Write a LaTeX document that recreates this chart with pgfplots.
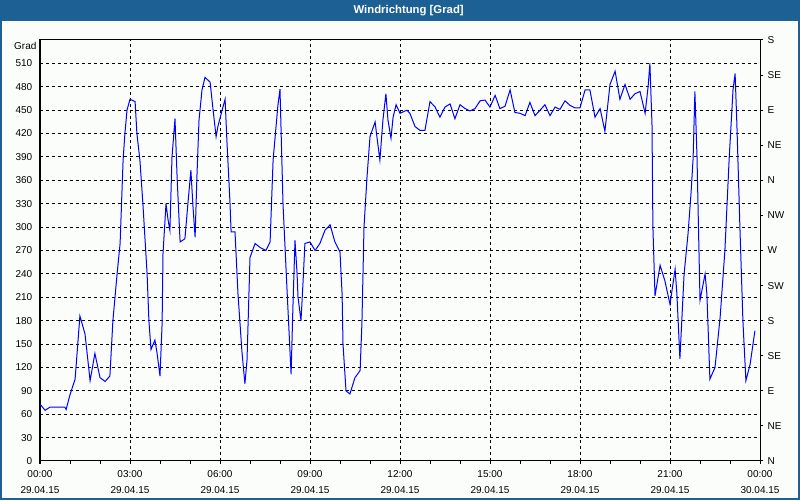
\documentclass[border=0pt]{standalone}
\usepackage{pgfplots}
\pgfplotsset{compat=1.18}
\usepackage{fontspec}
\setmainfont{Liberation Sans}
\definecolor{titlebar}{HTML}{1D6194}
\definecolor{bg}{HTML}{FBFDFB}
\definecolor{wind}{HTML}{0000FF}
\begin{document}
\begin{tikzpicture}[x=1pt,y=1pt]
\useasboundingbox (-30,-29.25) rectangle (570,345.75);
\fill[bg] (-30,-29.25) rectangle (570,345.75);
\fill[titlebar] (-30,330) rectangle (570,345.75);
\draw[titlebar, line width=1.5pt] (-29.25,-28.5) rectangle (569.25,345);
\node[white, font=\fontsize{8.5}{10}\selectfont\bfseries] at (276.5,338) {Windrichtung [Grad]};

% left axis: data, grid, time labels
\begin{axis}[
    scale only axis,
    width=540pt, height=315.75pt,
    xmin=0, xmax=24, ymin=0, ymax=540,
    axis background/.style={fill=bg},
    axis line style={black, line width=0.75pt},
    xtick={0,3,...,24},
    minor x tick num=2,
    xticklabels={{00:00\\29.04.15},{03:00\\29.04.15},{06:00\\29.04.15},{09:00\\29.04.15},{12:00\\29.04.15},{15:00\\29.04.15},{18:00\\29.04.15},{21:00\\29.04.15},{00:00\\30.04.15}},
    ytick={0,30,...,510},
    xtick pos=bottom, ytick pos=left,
    tick align=outside,
    major tick length=2.25pt, minor tick length=2.25pt,
    major y tick style={draw=none},
    tick style={black, line width=0.75pt},
    grid=major,
    major grid style={black, line width=0.75pt, dash pattern=on 2.25pt off 2.25pt},
    ticklabel style={font=\fontsize{7.5}{12}\selectfont},
    xticklabel style={align=center, yshift=-1.5pt},
    /pgf/number format/assume math mode=true,
    clip=false,
]
\addplot[wind, line width=0.75pt] coordinates {
(0,73) (0.17,65) (0.33,69) (0.83,69) (0.87,66) (1.0,85) (1.17,105) (1.33,186)
(1.5,163) (1.67,103) (1.83,138) (2.0,107) (2.17,102) (2.33,109) (2.43,180)
(2.57,240) (2.67,279) (2.77,386) (2.83,420) (2.9,450) (3.0,464) (3.17,461)
(3.23,420) (3.33,386) (3.43,330) (3.57,240) (3.63,180) (3.7,143) (3.83,155)
(3.9,139) (4.0,109) (4.07,176) (4.1,266) (4.2,330) (4.27,309) (4.33,296)
(4.4,390) (4.5,439) (4.57,364) (4.67,281) (4.83,285) (4.93,330) (5.03,373)
(5.1,326) (5.17,287) (5.23,364) (5.3,437) (5.4,476) (5.5,492) (5.67,486)
(5.77,450) (5.87,416) (5.93,429) (6.07,450) (6.17,464) (6.23,411) (6.33,334)
(6.37,294) (6.5,294) (6.6,214) (6.73,141) (6.83,99) (6.9,129) (7.0,261)
(7.17,279) (7.33,274) (7.53,270) (7.67,281) (7.77,386) (7.93,456) (8.0,477)
(8.1,330) (8.23,223) (8.37,111) (8.43,197) (8.5,283) (8.57,240) (8.6,210)
(8.7,180) (8.77,231) (8.83,279) (9.0,281) (9.17,270) (9.33,279) (9.5,296)
(9.67,303) (9.83,281) (10.0,268) (10.07,214) (10.1,150) (10.2,90) (10.33,86)
(10.5,107) (10.67,116) (10.73,176) (10.8,300) (10.9,364) (11.0,416) (11.17,435)
(11.23,416) (11.33,386) (11.43,437) (11.53,471) (11.6,437) (11.7,414) (11.77,441)
(11.87,457) (12.0,446) (12.23,450) (12.33,446) (12.5,429) (12.67,424) (12.83,424)
(13.0,461) (13.17,454) (13.33,441) (13.5,454) (13.67,458) (13.83,439) (14.0,457)
(14.17,452) (14.33,449) (14.5,452) (14.67,462) (14.83,463) (15.0,454) (15.17,469)
(15.33,452) (15.5,455) (15.67,476) (15.83,447) (16.0,446) (16.17,443) (16.33,460)
(16.5,443) (16.67,450) (16.83,457) (17.0,443) (17.17,454) (17.33,451) (17.5,462)
(17.67,456) (17.83,453) (18.0,453) (18.17,476) (18.33,476) (18.5,441) (18.67,452)
(18.83,423) (19.0,483) (19.17,500) (19.33,464) (19.5,483) (19.67,464) (19.83,471)
(20.0,474) (20.17,446) (20.27,480) (20.33,510) (20.4,431) (20.43,300) (20.5,212)
(20.67,251) (20.83,231) (21.0,201) (21.17,246) (21.23,214) (21.33,131) (21.47,240)
(21.6,291) (21.7,343) (21.77,388) (21.83,474) (21.9,390) (22.0,206) (22.17,240)
(22.23,214) (22.33,105) (22.5,120) (22.67,184) (22.83,270) (22.97,386) (23.1,476)
(23.17,497) (23.23,431) (23.33,300) (23.43,180) (23.53,103) (23.67,124) (23.83,167)
};
\node[anchor=east, inner sep=0pt, font=\fontsize{7.5}{9}\selectfont] at (rel axis cs:0,1) [xshift=-2.5pt, yshift=-4.5pt] {Grad};
\end{axis}

% right axis: compass directions
\begin{axis}[
    scale only axis,
    width=540pt, height=315.75pt,
    xmin=0, xmax=24, ymin=0, ymax=540,
    axis x line=none,
    axis y line*=right,
    axis line style={black, line width=0.75pt},
    ytick={0,45,...,540},
    yticklabels={N,NE,E,SE,S,SW,W,NW,N,NE,E,SE,S},
    tick align=outside,
    major tick length=2.25pt,
    tick style={black, line width=0.75pt},
    ticklabel style={font=\fontsize{7.5}{9}\selectfont},
]
\end{axis}
\end{tikzpicture}
\end{document}
